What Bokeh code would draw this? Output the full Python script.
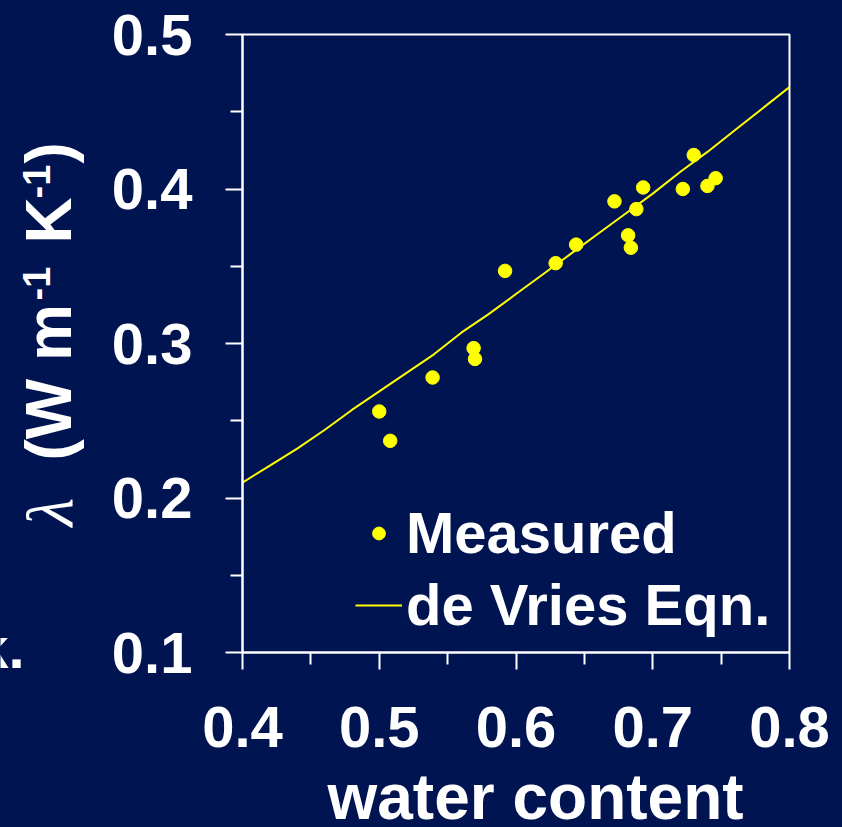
import math
from bokeh.plotting import figure
from bokeh.layouts import row, column
from bokeh.models import Plot, Range1d, FixedTicker, PrintfTickFormatter, Label, Legend, LegendItem
from bokeh.embed import file_html
from bokeh.resources import INLINE

# ---- data ----
water_content = [0.500, 0.508, 0.539, 0.569, 0.570, 0.592, 0.629, 0.644, 0.672,
                 0.682, 0.684, 0.688, 0.693, 0.722, 0.730, 0.740, 0.746]
conductivity = [0.256, 0.237, 0.278, 0.297, 0.290, 0.347, 0.352, 0.364, 0.392,
                0.370, 0.362, 0.387, 0.401, 0.400, 0.422, 0.402, 0.407]

devries_x = [0.40, 0.42, 0.44, 0.46, 0.48, 0.50, 0.52, 0.54, 0.56, 0.58, 0.60,
             0.62, 0.64, 0.66, 0.68, 0.70, 0.72, 0.74, 0.76, 0.78, 0.80]
devries_y = [0.210, 0.221, 0.232, 0.244, 0.257, 0.269, 0.281, 0.293, 0.307, 0.319, 0.332,
             0.345, 0.358, 0.371, 0.384, 0.397, 0.411, 0.424, 0.438, 0.452, 0.466]

x_ticks = [0.4, 0.5, 0.6, 0.7, 0.8]
x_minor_ticks = [0.45, 0.55, 0.65, 0.75]
y_ticks = [0.1, 0.2, 0.3, 0.4, 0.5]
y_minor_ticks = [0.15, 0.25, 0.35, 0.45]

series_names = ["Measured", "de Vries Eqn."]
x_title = "water content"
# y title: lambda (W m^-1 K^-1), as pieces: (text, is_superscript)
y_title_parts = [("\u03bb", False), ("(W m", False), ("-1", True), ("K", False), ("-1", True), (")", False)]
edge_fragment = "k."

BG = "#001452"
FG = "white"
YEL = "#FFFF00"
FONT = "Liberation Sans"
BGSTYLE = {"background-color": BG}
NOALIGN = {"frame_align": False} if "frame_align" in Plot.properties() else {}
DROP = 0.37  # observed baseline drop of Label text, as a fraction of font size

W, H = 842, 827
LEFT_W = 100
TOP_H = 770          # height of the row holding the plot
BOT_H = H - TOP_H    # strip holding the x title

# ---------------- main plot ----------------
main = figure(width=W - LEFT_W, height=TOP_H, output_backend="svg", toolbar_location=None,
              x_range=Range1d(0.4, 0.8), y_range=Range1d(0.1, 0.5),
              min_border_left=242 - LEFT_W, min_border_right=W - 789,
              min_border_top=34, min_border_bottom=TOP_H - 652, styles=BGSTYLE)
main.background_fill_color = BG
main.border_fill_color = BG
main.outline_line_color = FG
main.outline_line_width = 2
main.xgrid.visible = False
main.ygrid.visible = False

ln = main.line(devries_x, devries_y, line_color=YEL, line_width=2)
pts = main.scatter(water_content, conductivity, size=13.5, fill_color=YEL, line_color=YEL)

for ax, ticks, minor in ((main.xaxis[0], x_ticks, x_minor_ticks), (main.yaxis[0], y_ticks, y_minor_ticks)):
    ax.ticker = FixedTicker(ticks=ticks, minor_ticks=minor)
    ax.formatter = PrintfTickFormatter(format="%.1f")
    ax.axis_line_color = FG
    ax.axis_line_width = 2
    ax.major_tick_line_color = FG
    ax.major_tick_line_width = 2
    ax.minor_tick_line_color = FG
    ax.minor_tick_line_width = 2
    ax.major_tick_in = 0
    ax.major_tick_out = 17
    ax.minor_tick_in = 0
    ax.minor_tick_out = 12
    ax.major_label_text_font = FONT
    ax.major_label_text_font_style = "bold"
    ax.major_label_text_font_size = "58px"
    ax.major_label_text_color = FG
    ax.axis_label = None

main.yaxis[0].major_label_standoff = 33
main.xaxis[0].major_label_standoff = 37

legend = Legend(items=[LegendItem(label=series_names[0], renderers=[pts]),
                       LegendItem(label=series_names[1], renderers=[ln])],
                location=(103, 4), background_fill_alpha=0, border_line_alpha=0,
                label_text_font=FONT, label_text_font_style="bold",
                label_text_font_size="58px", label_text_color=FG,
                glyph_width=47, glyph_height=32, label_standoff=4, spacing=5,
                padding=10, margin=0)
main.add_layout(legend)

# ---------------- left strip holding the rotated y title ----------------
left = figure(width=LEFT_W, height=TOP_H, output_backend="svg", toolbar_location=None,
              x_range=Range1d(0, LEFT_W), y_range=Range1d(0, TOP_H),
              x_axis_location=None, y_axis_location=None, min_border=0,
              styles=BGSTYLE, **NOALIGN)
left.background_fill_color = BG
left.border_fill_color = BG
left.outline_line_color = None
left.xgrid.visible = False
left.ygrid.visible = False

# start positions along the (vertical) text direction, measured up from the strip bottom
starts = [244, 310, 470, 527, 572, 607]
for (txt, sup), ys in zip(y_title_parts, starts):
    if txt == "\u03bb":
        fnt, sty, size, xb = "Liberation Serif", "italic", 66, 73
    elif sup:
        fnt, sty, size, xb = FONT, "bold", 38, 50
    else:
        fnt, sty, size, xb = FONT, "bold", 64, 72
    left.add_layout(Label(x=xb - DROP * size, y=ys, x_units="screen", y_units="screen",
                          angle=math.pi / 2, text=txt, text_font=fnt, text_font_style=sty,
                          text_font_size=f"{size}px", text_color=FG, text_align="left",
                          text_baseline="alphabetic"))

# the cut-off fragment at the left edge
left.add_layout(Label(x=24, y=TOP_H - 668 + DROP * 58, x_units="screen", y_units="screen",
                      text=edge_fragment, text_font=FONT, text_font_style="bold",
                      text_font_size="58px", text_color=FG, text_align="right",
                      text_baseline="alphabetic"))

# ---------------- bottom strip holding the x title ----------------
bottom = figure(width=W, height=BOT_H, output_backend="svg", toolbar_location=None,
                x_range=Range1d(0, W), y_range=Range1d(0, BOT_H),
                x_axis_location=None, y_axis_location=None, min_border=0,
                styles=BGSTYLE, **NOALIGN)
bottom.background_fill_color = BG
bottom.border_fill_color = BG
bottom.outline_line_color = None
bottom.xgrid.visible = False
bottom.ygrid.visible = False
bottom.add_layout(Label(x=535, y=H - 820 + DROP * 64, x_units="screen", y_units="screen",
                        text=x_title, text_font=FONT, text_font_style="bold",
                        text_font_size="64px", text_color=FG, text_align="center",
                        text_baseline="alphabetic"))

p = column(row(left, main, styles=BGSTYLE), bottom, styles=BGSTYLE)
open("out.html", "w").write(file_html(p, INLINE))
